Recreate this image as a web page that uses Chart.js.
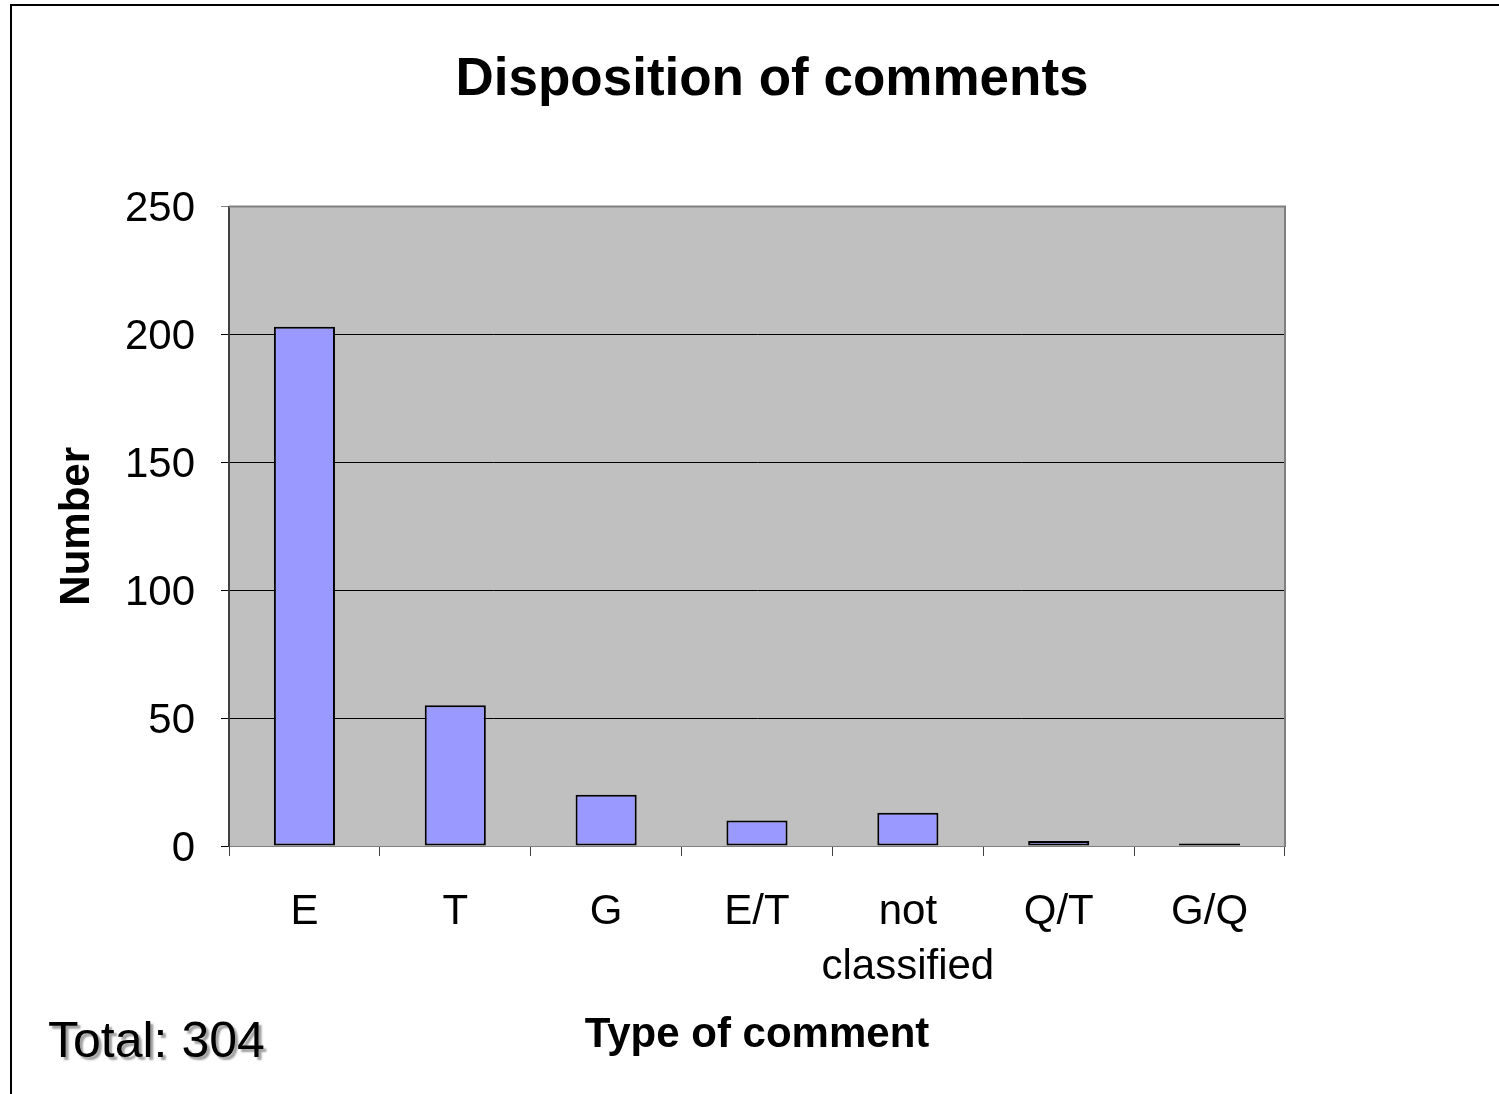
<!DOCTYPE html>
<html>
<head>
<meta charset="utf-8">
<script src="https://cdn.jsdelivr.net/npm/chart.js@4/dist/chart.umd.min.js"></script>
<style>
  html, body { margin: 0; padding: 0; background: #fff; }
  #wrap { position: relative; width: 1499px; height: 1094px; overflow: hidden; }
  #myChart { position: absolute; left: 0; top: 0; }
  #frame { position: absolute; left: 10px; top: 4px; width: 1600px; height: 1200px;
           border-left: 2px solid #000; border-top: 2px solid #000; pointer-events: none; }
  #total { position: absolute; left: 48px; top: 1015px; font: 50px/1 "Liberation Sans", Arial, sans-serif;
           color: #000; text-shadow: 3px 3px 2px #a0a0a0; white-space: nowrap; }
</style>
</head>
<body>
<div id="wrap">
  <canvas id="myChart" width="1499" height="1094"></canvas>
  <div id="frame"></div>
  <div id="total"></div>
</div>
<script>
const categories = ["E", "T", "G", "E/T", ["not", "classified"], "Q/T", "G/Q"];
const counts = [203, 55, 20, 10, 13, 2, 1];
const yTicks = [0, 50, 100, 150, 200, 250];

const FONT = '"Liberation Sans", Arial, sans-serif';

document.querySelector("#total").textContent = "Total: " + counts.reduce((a, b) => a + b, 0);

// grey plot area + its outline
const plotArea = {
    id: "plotArea",
    beforeDraw(chart) {
        const { ctx, chartArea: a } = chart;
        ctx.save();
        ctx.fillStyle = "#c0c0c0";
        ctx.fillRect(a.left, a.top, a.right - a.left, a.bottom - a.top);
        ctx.restore();
    },
    afterDraw(chart) {
        const { ctx, chartArea: a } = chart;
        ctx.save();
        ctx.strokeStyle = "#808080";
        ctx.lineWidth = 2;
        ctx.beginPath();
        ctx.moveTo(a.left, a.top);
        ctx.lineTo(a.right, a.top);
        ctx.lineTo(a.right, a.bottom);
        ctx.stroke();
        ctx.restore();
    }
};

new Chart(document.querySelector("#myChart"), {
    type: "bar",
    data: {
        labels: categories,
        datasets: [{
            data: counts,
            yAxisID: "y",
            backgroundColor: "#9999ff",
            borderColor: "#000",
            borderWidth: 2,
            borderSkipped: false,
            barPercentage: 0.405,
            categoryPercentage: 1
        }]
    },
    options: {
        responsive: false,
        animation: false,
        devicePixelRatio: 1,
        layout: { padding: { top: 0, left: 45, right: 0, bottom: 0 } },
        scales: {
            x: {
                afterFit(scale) { scale.height = 248; },
                grid: {
                    display: true,
                    drawOnChartArea: false,
                    offset: true,
                    tickLength: 10,
                    color: "#404040"
                },
                border: { display: true, color: "#808080", width: 1 },
                ticks: {
                    color: "#000",
                    padding: 29,
                    maxRotation: 0,
                    autoSkip: false,
                    font: { family: FONT, size: 42, lineHeight: 1.31 }
                },
                title: {
                    display: true,
                    text: "Type of comment",
                    color: "#000",
                    font: { family: FONT, size: 42, weight: "bold", lineHeight: 1.2 },
                    padding: { top: 0, bottom: 33 }
                }
            },
            y: {
                position: "left",
                min: 0,
                max: 250,
                afterFit(scale) { scale.width = 184; },
                afterBuildTicks(scale) { scale.ticks = yTicks.map(v => ({ value: v })); },
                grid: {
                    color: ctx => (ctx.tick && ctx.tick.value === 250 ? "#808080" : "#000"),
                    lineWidth: 1,
                    tickLength: 8
                },
                border: { display: true, color: "#404040", width: 2 },
                ticks: {
                    color: "#000",
                    padding: 26,
                    labelOffset: 3,
                    font: { family: FONT, size: 42 }
                },
                title: {
                    display: true,
                    text: "Number",
                    color: "#000",
                    font: { family: FONT, size: 42, weight: "bold", lineHeight: 1.2 },
                    padding: { top: 7, bottom: 0 }
                }
            },
            // empty right-hand margin
            yRight: {
                position: "right",
                afterFit(scale) { scale.width = 214; },
                grid: { display: false },
                border: { display: false },
                ticks: { display: false },
                title: { display: false }
            }
        },
        plugins: {
            legend: { display: false },
            tooltip: { enabled: false },
            title: {
                display: true,
                text: "Disposition of comments",
                color: "#000",
                font: { family: FONT, size: 53, weight: "bold", lineHeight: 1.2 },
                padding: { top: 49, bottom: 94 }
            }
        }
    },
    plugins: [plotArea]
});
</script>
</body>
</html>
